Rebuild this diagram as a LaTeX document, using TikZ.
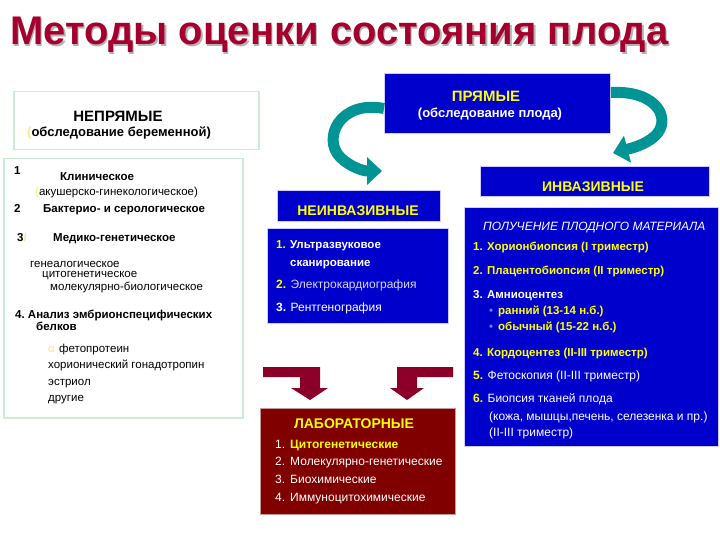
\documentclass[tikz,border=0pt]{standalone}
\usepackage{fontspec}
\setmainfont{Liberation Sans}
\usetikzlibrary{arrows.meta}

\definecolor{titlered}{RGB}{165,0,45}
\definecolor{slideblue}{RGB}{0,0,205}
\definecolor{labred}{RGB}{128,0,0}
\definecolor{arrowred}{RGB}{140,0,40}
\definecolor{ribbon}{RGB}{0,148,148}
\definecolor{paleframe}{RGB}{205,235,210}
\definecolor{hiyellow}{RGB}{255,255,0}
\definecolor{paleyellow}{RGB}{245,235,140}
\definecolor{softwhite}{RGB}{215,215,235}
\definecolor{dotblue}{RGB}{120,140,220}

\newcommand\fsz[1]{\fontsize{#1}{#1}\selectfont}

\tikzset{
  txt/.style={anchor=base west, inner sep=0pt, font=\fsz{11.5}},
  btxt/.style={txt, font=\fsz{11.5}\bfseries},
  greenbox/.style={anchor=north west, draw=paleframe, line width=1.5pt, fill=white},
  bluebox/.style={anchor=north west, draw=blue!20, line width=1pt, fill=slideblue},
  redbox/.style={anchor=north west, draw=labred!40, line width=1pt, fill=labred},
  ribbonarrow/.style={draw=ribbon, line width=11pt, -{Triangle[width=27pt,length=15pt]}},
  elbow/.style={fill=arrowred}
}

\begin{document}
\begin{tikzpicture}[x=1pt,y=-1pt]
\useasboundingbox[fill=white] (0,0) rectangle (720,540);

% title
\node[txt, font=\fsz{40}\bfseries, black!30] (titleshadow) at (11.5,46.5) {Методы оценки состояния плода};
\node[txt, font=\fsz{40}\bfseries, titlered] (title) at (10,45) {Методы оценки состояния плода};

% boxes
\node[greenbox, minimum width=245pt, minimum height=58pt] (indirect) at (13,91) {};
\node[greenbox, minimum width=239pt, minimum height=259pt] (methods) at (3,158) {};
\node[bluebox, minimum width=226pt, minimum height=60pt] (direct) at (384,73) {};
\node[bluebox, minimum width=163pt, minimum height=31pt] (noninvhead) at (277,190) {};
\node[bluebox, minimum width=181pt, minimum height=95pt] (noninv) at (267,228) {};
\node[bluebox, minimum width=229pt, minimum height=30pt] (invhead) at (480,166) {};
\node[bluebox, minimum width=254pt, minimum height=239pt] (inv) at (464,207) {};
\node[redbox, minimum width=195pt, minimum height=106pt] (lab) at (260,408) {};

% teal arrows
\coordinate (ltip) at (382,171);
\coordinate (rtip) at (613,153);
\draw[ribbonarrow] ([yshift=-5pt]direct.west) .. controls (340,100) and (322,138) .. (340,157)
  .. controls (349,166) and (362,171) .. (ltip);
\draw[ribbonarrow] ([yshift=11pt]direct.east) .. controls (658,90) and (672,120) .. (655,136)
  .. controls (645,145) and (632,148) .. (rtip);

% dark red arrows
\fill[elbow] (263,367) -- (320,367) -- (320,388) -- (328,388) -- (310,400) -- (291,388)
  -- (300,388) -- (300,377) -- (263,377) -- cycle;
\fill[elbow] (453,367) -- (397,367) -- (397,388) -- (390,388) -- (407,400) -- (424,388)
  -- (417,388) -- (417,377) -- (453,377) -- cycle;

% indirect
\node[txt, anchor=base, font=\fsz{15}\bfseries] (indirectname) at (118,122) {НЕПРЯМЫЕ};
\node[txt, font=\fsz{13}\bfseries] (indirectsub) at (27,137) {{\color{paleyellow}(}обследование беременной)};

\node[btxt] (m1) at (14,175) {1};
\node[btxt] (m1a) at (60,181) {Клиническое};
\node[txt] (m1b) at (35,196) {{\color{paleyellow}(}акушерско-гинекологическое)};
\node[btxt] (m2) at (14,212) {2};
\node[btxt] (m2a) at (43,212) {Бактерио- и серологическое};
\node[btxt] (m3) at (17,241) {3{\color{paleyellow}/}};
\node[btxt] (m3a) at (53,241) {Медико-генетическое};
\node[txt] (m3b) at (30,267) {генеалогическое};
\node[txt] (m3c) at (42,277) {цитогенетическое};
\node[txt] (m3d) at (50,290) {молекулярно-биологическое};
\node[btxt] (m4) at (15,318) {4.\ Анализ эмбрионспецифических};
\node[btxt] (m4a) at (36,330) {белков};
\node[txt, paleyellow] (m4alpha) at (48,352) {α};
\node[txt] (m4b) at (59,352) {фетопротеин};
\node[txt] (m4c) at (48,368) {хорионический гонадотропин};
\node[txt] (m4d) at (48,385) {эстриол};
\node[txt] (m4e) at (48,401) {другие};

% direct
\node[txt, anchor=base, font=\fsz{15}\bfseries, hiyellow] (directname) at (486,102) {ПРЯМЫЕ};
\node[txt, anchor=base, font=\fsz{13}\bfseries, white] (directsub) at (490,118) {(обследование плода)};

% non-invasive
\node[txt, anchor=base, font=\fsz{14}\bfseries, hiyellow] (noninvname) at (358,215) {НЕИНВАЗИВНЫЕ};
\node[btxt, white] (n1) at (276,248) {{\color{hiyellow}1.} Ультразвуковое};
\node[btxt, white] (n1a) at (290,266) {сканирование};
\node[txt, font=\fsz{12}, softwhite] (n2) at (276,288) {{\bfseries\color{hiyellow}2.} Электрокардиография};
\node[txt, font=\fsz{12}, white] (n3) at (276,311) {{\bfseries 3.} Рентгенография};

% invasive
\node[txt, anchor=base, font=\fsz{14}\bfseries, hiyellow] (invname) at (593,192) {ИНВАЗИВНЫЕ};
\node[txt, font=\fsz{12}\itshape, white] (i0) at (483,230) {ПОЛУЧЕНИЕ ПЛОДНОГО МАТЕРИАЛА};
\node[btxt, hiyellow] (i1) at (473,251) {1. Хорионбиопсия (I триместр)};
\node[btxt, hiyellow] (i2) at (473,274) {2. Плацентобиопсия (II триместр)};
\node[btxt, white] (i3) at (473,298) {3. Амниоцентез};
\node[txt, dotblue] (i3dot) at (489,314) {•};
\node[btxt, hiyellow] (i3a) at (498,314) {ранний (13-14 н.б.)};
\node[txt, dotblue] (i3dotb) at (489,330) {•};
\node[btxt, hiyellow] (i3b) at (498,330) {обычный (15-22 н.б.)};
\node[btxt, hiyellow] (i4) at (473,356) {4. Кордоцентез (II-III триместр)};
\node[txt, font=\fsz{12}, white] (i5) at (473,379) {{\bfseries\color{hiyellow}5.} Фетоскопия (II-III триместр)};
\node[txt, font=\fsz{12}, white] (i6) at (473,402) {{\bfseries\color{hiyellow}6.} Биопсия тканей плода};
\node[txt, font=\fsz{12}, white] (i6a) at (489,420) {(кожа, мышцы,печень, селезенка и пр.)};
\node[txt, font=\fsz{12}, white] (i6b) at (489,436) {(II-III триместр)};

% laboratory
\node[txt, anchor=base, font=\fsz{14}\bfseries, hiyellow] (labname) at (354,428) {ЛАБОРАТОРНЫЕ};
\node[txt, font=\fsz{12}, white] (l1) at (275,448) {1.};
\node[txt, font=\fsz{12}\bfseries, hiyellow] (l1a) at (290,448) {Цитогенетические};
\node[txt, font=\fsz{12}, white] (l2) at (275,465) {2.};
\node[txt, font=\fsz{12}, white] (l2a) at (290,465) {Молекулярно-генетические};
\node[txt, font=\fsz{12}, white] (l3) at (275,483) {3.};
\node[txt, font=\fsz{12}, white] (l3a) at (290,483) {Биохимические};
\node[txt, font=\fsz{12}, white] (l4) at (275,501) {4.};
\node[txt, font=\fsz{12}, white] (l4a) at (290,501) {Иммуноцитохимические};
\end{tikzpicture}
\end{document}
